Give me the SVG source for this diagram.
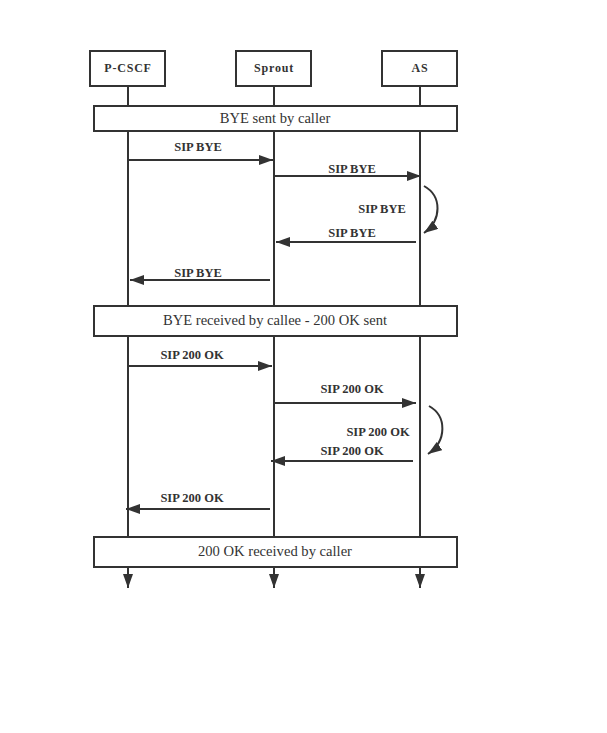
<svg xmlns="http://www.w3.org/2000/svg" width="607" height="733" viewBox="0 0 607 733">
<style>
.box{fill:#fff;stroke:#333;stroke-width:2}
.band{fill:#fff;stroke:#333;stroke-width:2}
.life{stroke:#333;stroke-width:2;fill:none}
.msg{stroke:#333;stroke-width:2;fill:none}
.nt{font-family:"Liberation Serif",serif;font-size:12px;font-weight:bold;fill:#333;text-anchor:middle;letter-spacing:0.8px}
.lt{font-family:"Liberation Serif",serif;font-size:12.5px;font-weight:bold;fill:#333;text-anchor:middle}
.bt{font-family:"Liberation Serif",serif;font-size:14.6px;fill:#333;text-anchor:middle}
</style>
<defs>
<marker id="ah" viewBox="0 0 14 10" refX="14" refY="5" markerWidth="14" markerHeight="10" markerUnits="userSpaceOnUse" orient="auto">
<path d="M0,0 L14,5 L0,10 Z" fill="#333"/>
</marker>
</defs>
<rect width="607" height="733" fill="#fff"/>
<g id="connectors">
<line class="life" x1="128" y1="86" x2="128" y2="588" marker-end="url(#ah)"/>
<line class="life" x1="274" y1="86" x2="274" y2="588" marker-end="url(#ah)"/>
<line class="life" x1="420" y1="86" x2="420" y2="588" marker-end="url(#ah)"/>
<line class="msg" x1="128" y1="160" x2="273" y2="160" marker-end="url(#ah)"/>
<text class="lt" x="198" y="151">SIP BYE</text>
<line class="msg" x1="274" y1="176" x2="421" y2="176" marker-end="url(#ah)"/>
<text class="lt" x="352" y="173">SIP BYE</text>
<path class="msg" d="M424,186 C442,196 442,220 424,233" marker-end="url(#ah)"/>
<text class="lt" x="382" y="213">SIP BYE</text>
<line class="msg" x1="416" y1="242" x2="276" y2="242" marker-end="url(#ah)"/>
<text class="lt" x="352" y="237">SIP BYE</text>
<line class="msg" x1="270" y1="280" x2="130" y2="280" marker-end="url(#ah)"/>
<text class="lt" x="198" y="277">SIP BYE</text>
<line class="msg" x1="128" y1="366" x2="272" y2="366" marker-end="url(#ah)"/>
<text class="lt" x="192" y="359">SIP 200 OK</text>
<line class="msg" x1="274" y1="403" x2="416" y2="403" marker-end="url(#ah)"/>
<text class="lt" x="352" y="393">SIP 200 OK</text>
<path class="msg" d="M429,406 C447,416 447,441 428,454" marker-end="url(#ah)"/>
<text class="lt" x="378" y="436">SIP 200 OK</text>
<line class="msg" x1="413" y1="461" x2="271" y2="461" marker-end="url(#ah)"/>
<text class="lt" x="352" y="455">SIP 200 OK</text>
<line class="msg" x1="270" y1="509" x2="126" y2="509" marker-end="url(#ah)"/>
<text class="lt" x="192" y="502">SIP 200 OK</text>
</g>
<g id="pcscf"><rect class="box" x="90" y="51" width="75" height="35"/><text class="nt" x="128" y="72">P-CSCF</text></g>
<g id="sprout"><rect class="box" x="236" y="51" width="75" height="35"/><text class="nt" x="274" y="72">Sprout</text></g>
<g id="as"><rect class="box" x="382" y="51" width="75" height="35"/><text class="nt" x="420" y="72">AS</text></g>
<g id="band1"><rect class="band" x="94" y="106" width="363" height="25"/><text class="bt" x="275" y="123">BYE sent by caller</text></g>
<g id="band2"><rect class="band" x="94" y="306" width="363" height="30"/><text class="bt" x="275" y="325">BYE received by callee - 200 OK sent</text></g>
<g id="band3"><rect class="band" x="94" y="537" width="363" height="30"/><text class="bt" x="275" y="556">200 OK received by caller</text></g>
</svg>
